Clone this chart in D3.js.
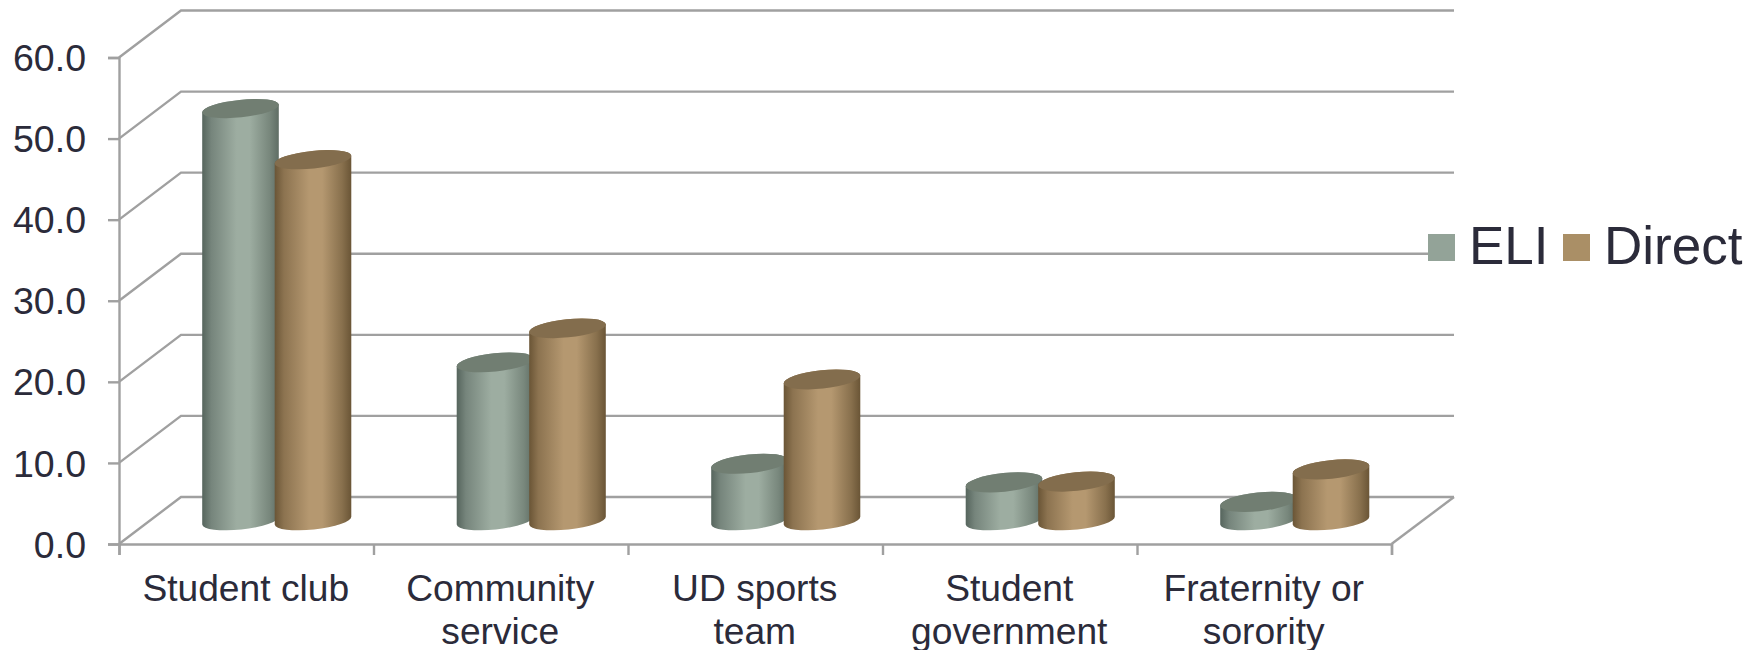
<!DOCTYPE html>
<html><head><meta charset="utf-8">
<script src="https://cdn.jsdelivr.net/npm/d3@7/dist/d3.min.js"></script>
<style>html,body{margin:0;padding:0;background:#fff;overflow:hidden}svg{display:block}text{font-family:"Liberation Sans",Arial,sans-serif;fill:#2b2b3a}</style>
</head><body><svg id="c" width="1760" height="650"></svg>
<script>
const categories = [["Student club"],["Community","service"],["UD sports","team"],["Student","government"],["Fraternity or","sorority"]];
const categoryKeys = ["Student club","Community service","UD sports team","Student government","Fraternity or sorority"];
const eliValues = [50.8,19.5,7.0,4.7,2.3];
const directValues = [44.5,23.7,17.4,4.8,6.3];
const yTicks = [0,10,20,30,40,50,60];
const seriesNames = ["ELI","Direct"];

const svg = d3.select("#c");
const y = d3.scaleLinear().domain([0,60]).range([544,57.5]);
const x = d3.scaleBand().domain(categoryKeys).range([119,1391.5]);
const depth = {dx:62, dy:-47};
const gridColor = "#a0a0a0";

const defs = svg.append("defs");
function grad(id, edgeL, mid, edgeR){
  const g = defs.append("linearGradient").attr("id",id).attr("x1","0").attr("x2","1").attr("y1","0").attr("y2","0");
  [[0,edgeL],[0.12,d3.interpolateRgb(edgeL,mid)(0.45)],[0.45,mid],[0.62,mid],[0.88,d3.interpolateRgb(edgeR,mid)(0.4)],[1,edgeR]]
    .forEach(s=>g.append("stop").attr("offset",s[0]).attr("stop-color",s[1]));
}
grad("gE","#56655d","#9dada1","#5f6d64");
grad("gD","#6a5536","#b59870","#6a5536");

// walls
const gGrid = svg.append("g").attr("fill","none").attr("stroke",gridColor).attr("stroke-width",2.4);
yTicks.forEach(t=>{
  const px=y(t);
  gGrid.append("path").attr("d",d3.line()([[119,px],[119+depth.dx,px+depth.dy],[1454,px+depth.dy]]));
});
gGrid.append("path").attr("d",d3.line()([[x.range()[1],544],[1454,544+depth.dy]]));

// axes
const yAxis = d3.axisLeft(y).tickValues(yTicks).tickFormat(d3.format(".1f")).tickSize(11).tickPadding(22);
const gy = svg.append("g").attr("transform","translate(119,0)").call(yAxis);
gy.call(g=>g.selectAll("text").attr("x",-33));
const xAxis = d3.axisBottom(d3.scaleLinear().domain([0,5]).range(x.range())).tickValues(d3.range(6)).tickSize(11).tickFormat("");
const gx = svg.append("g").attr("transform","translate(0,544)").call(xAxis);
[gy,gx].forEach(g=>{g.selectAll("path.domain,line").attr("stroke",gridColor).attr("stroke-width",2.4);});
gy.selectAll("text").attr("font-size",37.5).attr("dy","0.35em");

// category labels
categories.forEach((lines,i)=>{
  const cx = x(categoryKeys[i])+x.bandwidth()/2;
  const t = svg.append("text").attr("text-anchor","middle").attr("font-size",37.2);
  lines.forEach((s,j)=>t.append("tspan").attr("x",cx-0.5).attr("y",600.5+j*43).text(s));
});

// cylinders
const baseY = 520.5, rx = 38.5, tilt = -6;
const h = d3.scaleLinear().domain([0,60]).range([0,y(0)-y(60)]);
const offs = [{k:0,dx:121.5,vals:eliValues,g:"url(#gE)",top:"#717e72"},
              {k:1,dx:194,vals:directValues,g:"url(#gD)",top:"#836d4d"}];
offs.forEach(s=>{
  const g = svg.append("g");
  s.vals.forEach((v,i)=>{
    const cx = x(categoryKeys[i])+s.dx;
    const top = baseY-h(v);
    const ryT = 8.6+(1-v/60)*0.8;
    const ryB = 9;
    const a = tilt*Math.PI/180, sx=Math.cos(a)*rx, sy=Math.sin(a)*rx;
    const d = `M${cx-sx},${top-sy} L${cx-sx},${baseY-sy} A${rx},${ryB} ${tilt} 0 0 ${cx+sx},${baseY+sy} L${cx+sx},${top+sy} A${rx},${ryT} ${tilt} 0 0 ${cx-sx},${top-sy} Z`;
    g.append("path").attr("d",d).attr("fill",s.g);
    g.append("ellipse").attr("cx",cx).attr("cy",top).attr("rx",rx).attr("ry",ryT)
      .attr("transform",`rotate(${tilt} ${cx} ${top})`).attr("fill",s.top);
  });
});

// legend
const legendX=[1428,1563], textX=[1469,1604], swatch=["#93a398","#aa8f66"];
seriesNames.forEach((n,i)=>{
  svg.append("rect").attr("x",legendX[i]).attr("y",234).attr("width",27).attr("height",27).attr("fill",swatch[i]);
  svg.append("text").attr("x",textX[i]).attr("y",264).attr("font-size",53).text(n);
});
</script></body></html>
